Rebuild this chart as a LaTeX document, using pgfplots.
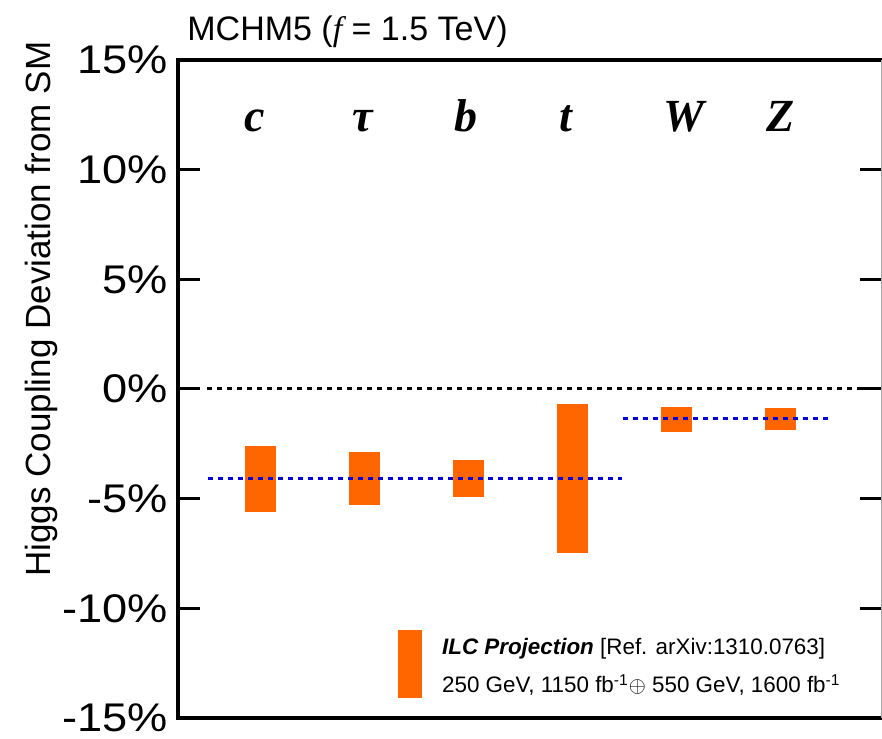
\documentclass[border=0pt]{standalone}
\usepackage{pgfplots}
\pgfplotsset{compat=1.18}
\usepackage{pgfplotstable}
\usepackage{fontspec}
\setmainfont{Liberation Sans}
\newfontfamily\serif{Liberation Serif}
\definecolor{ilcorange}{HTML}{FF6600}
\definecolor{dotblue}{HTML}{0000DD}

\pgfplotstableread{
x lo hi
1 -5.60 -2.59
2 -5.29 -2.87
3 -4.91 -3.25
4 -7.48 -0.68
5 -1.95 -0.80
6 -1.88 -0.88
}\bars

\begin{document}
\begin{tikzpicture}
\begin{axis}[
  name=ax,
  at={(0,0)}, anchor=south west,
  scale only axis,
  width=351.75pt, height=329pt,
  xmin=0.2115, xmax=6.976,
  ymin=-15, ymax=15,
  xtick=\empty,
  ytick={-15,-10,-5,0,5,10,15},
  yticklabels={-15\%,-10\%,-5\%,0\%,5\%,10\%,15\%},
  yticklabel style={font=\fontsize{20}{24}\selectfont, inner sep=0pt, xshift=-5pt, xscale=1.13},
  tick align=inside,
  ytick pos=both,
  major tick length=11pt,
  every tick/.style={black, line width=1.5pt},
  axis line style={draw=none},
  clip=false,
]
% zero line
\addplot[black, line width=1.5pt, dash pattern=on 2.3pt off 2.7pt] coordinates {(0.49,0) (6.77,0)};
% bars
\addplot[draw=none, mark=none,
  error bars/.cd, y dir=plus, y explicit, error mark=none,
  error bar style={line width=15.5pt, color=ilcorange}]
  table[x=x, y=lo, y error expr=\thisrow{hi}-\thisrow{lo}] {\bars};
% SM-group lines
\addplot[dotblue, line width=1.5pt, dash pattern=on 2.5pt off 2.5pt] coordinates {(0.497,-4.08) (4.484,-4.08)};
\addplot[dotblue, line width=1.5pt, dash pattern=on 2.5pt off 2.5pt] coordinates {(4.494,-1.35) (6.468,-1.35)};
% frame
\draw[black, line width=1.65pt] (rel axis cs:1,1) -- (rel axis cs:0,1) -- (rel axis cs:0,0) -- (rel axis cs:1,0);
\draw[gray!70, line width=0.5pt] (rel axis cs:1,0) -- (rel axis cs:1,1);
% column labels
\begin{scope}[every node/.style={anchor=base, inner sep=0pt, font=\serif\bfseries\itshape\fontsize{23}{27}\selectfont}]
\node at (axis cs:0.952,11.73) {c};
\node at (axis cs:1.99,11.73) {τ};
\node at (axis cs:2.98,11.73) {b};
\node at (axis cs:3.94,11.73) {t};
\node at (axis cs:5.077,11.73) {W};
\node at (axis cs:6.01,11.73) {Z};
\end{scope}
% y label
\node[rotate=90, anchor=base, inner sep=0pt, font=\fontsize{17.5}{20}\selectfont]
  at ([xshift=-63.5pt]axis cs:0.2115,3.64) {Higgs Coupling Deviation from SM};
% title
\node[anchor=base west, inner sep=0pt, font=\fontsize{17}{20}\selectfont]
  at ([xshift=4.5pt, yshift=9.5pt]rel axis cs:0,1) {MCHM5 ({\serif\itshape f} = 1.5 TeV)};
% legend
\fill[ilcorange] (axis cs:2.330,-14.09) rectangle (axis cs:2.561,-10.98);
\node[anchor=base west, inner sep=0pt, font=\fontsize{11.2}{13}\selectfont]
  at (axis cs:2.747,-12.12) {\textbf{\textit{ILC Projection}} [Ref. arXiv:1310.0763]};
\node[anchor=base west, inner sep=0pt, font=\fontsize{11.2}{13}\selectfont]
  at (axis cs:2.747,-13.86) {250 GeV, 1150 fb\textsuperscript{-1}$\oplus$ 550 GeV, 1600 fb\textsuperscript{-1}};
\end{axis}
\pgfresetboundingbox
\useasboundingbox ([xshift=-89pt, yshift=-10pt]ax.south west) rectangle ([xshift=352pt, yshift=359pt]ax.south west);
\end{tikzpicture}
\end{document}
